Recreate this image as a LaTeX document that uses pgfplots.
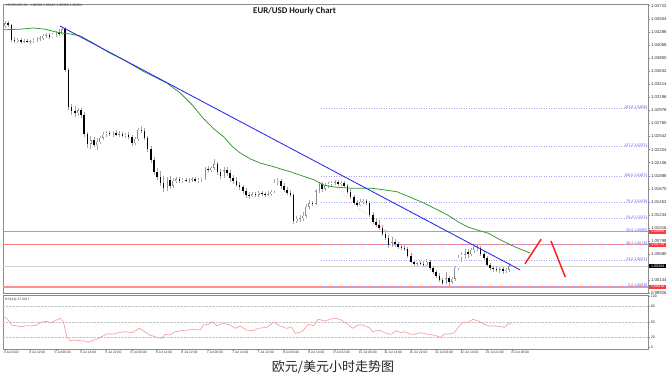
\documentclass[border=0pt]{standalone}
\usepackage{fontspec}
\setmainfont{Liberation Sans}
\newfontfamily\titlefont{Carlito}
\newfontfamily\cjk{Noto Sans CJK SC}
\newfontfamily\dejavu{DejaVu Sans}
\usepackage{pgfplots}
\usepackage{pgfplotstable}
\pgfplotsset{compat=1.18}

\definecolor{mtgray}{HTML}{8C8C8C}
\definecolor{fibblue}{HTML}{5A5AF2}
\definecolor{lvlred}{HTML}{FF7A7A}
\definecolor{boxred}{HTML}{FF3A3A}
\definecolor{marsi}{HTML}{F29A9A}
\definecolor{magreen}{HTML}{2E9A2E}
\definecolor{tlblue}{HTML}{2828F0}
\definecolor{handred}{HTML}{FF2020}

% high / low of every hourly candle
\pgfplotstableread{
i h l
0 1.0447 1.0435
1 1.0447 1.0437
2 1.0442 1.0412
3 1.0420 1.0410
4 1.0418 1.0410
5 1.0418 1.0408
6 1.0417 1.0410
7 1.0417 1.0410
8 1.0415 1.0408
9 1.0418 1.0410
10 1.0420 1.0412
11 1.0422 1.0413
12 1.0425 1.0415
13 1.0427 1.0418
14 1.0427 1.0417
15 1.0427 1.0418
16 1.0430 1.0420
17 1.0433 1.0422
18 1.0437 1.0423
19 1.0437 1.0362
20 1.0368 1.0298
21 1.0308 1.0290
22 1.0305 1.0287
23 1.0302 1.0288
24 1.0302 1.0285
25 1.0295 1.0253
26 1.0262 1.0235
27 1.0255 1.0233
28 1.0253 1.0237
29 1.0252 1.0232
30 1.0255 1.0242
31 1.0262 1.0248
32 1.0263 1.0253
33 1.0263 1.0255
34 1.0263 1.0253
35 1.0265 1.0255
36 1.0263 1.0253
37 1.0262 1.0253
38 1.0260 1.0252
39 1.0262 1.0250
40 1.0257 1.0238
41 1.0253 1.0240
42 1.0268 1.0247
43 1.0272 1.0260
44 1.0268 1.0248
45 1.0255 1.0228
46 1.0238 1.0210
47 1.0220 1.0190
48 1.0202 1.0182
49 1.0197 1.0172
50 1.0188 1.0162
51 1.0187 1.0163
52 1.0188 1.0167
53 1.0185 1.0168
54 1.0187 1.0177
55 1.0187 1.0177
56 1.0185 1.0177
57 1.0185 1.0178
58 1.0185 1.0177
59 1.0187 1.0178
60 1.0187 1.0178
61 1.0185 1.0177
62 1.0187 1.0178
63 1.0203 1.0182
64 1.0205 1.0195
65 1.0205 1.0195
66 1.0217 1.0198
67 1.0212 1.0190
68 1.0200 1.0183
69 1.0203 1.0185
70 1.0203 1.0188
71 1.0198 1.0178
72 1.0190 1.0175
73 1.0187 1.0170
74 1.0178 1.0165
75 1.0173 1.0158
76 1.0168 1.0152
77 1.0162 1.0150
78 1.0162 1.0153
79 1.0162 1.0153
80 1.0163 1.0153
81 1.0163 1.0155
82 1.0162 1.0153
83 1.0163 1.0155
84 1.0165 1.0155
85 1.0183 1.0160
86 1.0185 1.0173
87 1.0183 1.0167
88 1.0177 1.0162
89 1.0170 1.0157
90 1.0165 1.0153
91 1.0160 1.0108
92 1.0122 1.0110
93 1.0123 1.0112
94 1.0128 1.0113
95 1.0142 1.0118
96 1.0148 1.0133
97 1.0147 1.0138
98 1.0167 1.0140
99 1.0178 1.0160
100 1.0178 1.0162
101 1.0177 1.0163
102 1.0178 1.0168
103 1.0180 1.0172
104 1.0182 1.0173
105 1.0182 1.0172
106 1.0180 1.0172
107 1.0180 1.0168
108 1.0175 1.0158
109 1.0167 1.0150
110 1.0157 1.0140
111 1.0148 1.0137
112 1.0150 1.0138
113 1.0150 1.0142
114 1.0150 1.0140
115 1.0147 1.0120
116 1.0128 1.0108
117 1.0118 1.0103
118 1.0115 1.0098
119 1.0107 1.0088
120 1.0098 1.0082
121 1.0090 1.0068
122 1.0087 1.0070
123 1.0083 1.0070
124 1.0078 1.0067
125 1.0075 1.0065
126 1.0073 1.0063
127 1.0070 1.0052
128 1.0060 1.0043
129 1.0047 1.0038
130 1.0045 1.0038
131 1.0047 1.0040
132 1.0047 1.0037
133 1.0050 1.0038
134 1.0048 1.0032
135 1.0038 1.0025
136 1.0032 1.0018
137 1.0027 1.0012
138 1.0018 1.0007
139 1.0028 1.0008
140 1.0022 1.0005
141 1.0020 1.0008
142 1.0038 1.0013
143 1.0057 1.0032
144 1.0062 1.0045
145 1.0067 1.0050
146 1.0067 1.0052
147 1.0068 1.0055
148 1.0073 1.0060
149 1.0075 1.0063
150 1.0072 1.0055
151 1.0063 1.0048
152 1.0055 1.0038
153 1.0043 1.0032
154 1.0038 1.0028
155 1.0038 1.0028
156 1.0037 1.0027
157 1.0037 1.0025
158 1.0035 1.0027
159 1.0044 1.0028
}\wicks

% open / close of the rising candles
\pgfplotstableread{
i o c
0 1.0438 1.0443
4 1.0413 1.0415
6 1.0412 1.0413
8 1.0412 1.0413
9 1.0413 1.0415
10 1.0415 1.0417
11 1.0417 1.0418
12 1.0418 1.0422
13 1.0422 1.0423
15 1.0420 1.0425
16 1.0425 1.0427
18 1.0425 1.0433
23 1.0293 1.0298
27 1.0242 1.0248
29 1.0240 1.0245
30 1.0245 1.0252
31 1.0252 1.0257
32 1.0257 1.0260
34 1.0258 1.0260
36 1.0257 1.0258
38 1.0255 1.0257
41 1.0243 1.0250
42 1.0250 1.0265
51 1.0168 1.0182
53 1.0172 1.0180
54 1.0180 1.0183
56 1.0180 1.0182
58 1.0180 1.0182
59 1.0182 1.0183
61 1.0180 1.0183
62 1.0183 1.0185
63 1.0185 1.0200
65 1.0198 1.0202
66 1.0202 1.0208
69 1.0188 1.0198
78 1.0155 1.0158
80 1.0157 1.0160
83 1.0157 1.0158
84 1.0158 1.0162
85 1.0162 1.0178
86 1.0178 1.0180
92 1.0113 1.0117
93 1.0117 1.0118
94 1.0118 1.0122
95 1.0122 1.0137
96 1.0137 1.0143
98 1.0142 1.0163
99 1.0163 1.0175
101 1.0167 1.0172
102 1.0172 1.0175
103 1.0175 1.0177
104 1.0177 1.0178
106 1.0175 1.0177
112 1.0140 1.0145
113 1.0145 1.0147
122 1.0073 1.0078
130 1.0042 1.0043
133 1.0040 1.0045
139 1.0010 1.0018
141 1.0012 1.0017
142 1.0017 1.0035
143 1.0035 1.0052
144 1.0052 1.0057
145 1.0057 1.0062
147 1.0058 1.0065
148 1.0065 1.0070
156 1.0032 1.0033
158 1.0030 1.0032
159 1.0032 1.0038
}\bull

% open / close of the falling candles
\pgfplotstableread{
i o c
1 1.0443 1.0440
2 1.0440 1.0415
3 1.0415 1.0413
5 1.0415 1.0412
7 1.0413 1.0412
14 1.0423 1.0420
17 1.0427 1.0425
19 1.0433 1.0365
20 1.0365 1.0303
21 1.0303 1.0297
22 1.0297 1.0293
24 1.0298 1.0290
25 1.0290 1.0258
26 1.0258 1.0242
28 1.0248 1.0240
33 1.0260 1.0258
35 1.0260 1.0257
37 1.0258 1.0255
39 1.0257 1.0253
40 1.0253 1.0243
43 1.0265 1.0263
44 1.0263 1.0252
45 1.0252 1.0233
46 1.0233 1.0215
47 1.0215 1.0195
48 1.0195 1.0187
49 1.0187 1.0177
50 1.0177 1.0168
52 1.0182 1.0172
55 1.0183 1.0180
57 1.0182 1.0180
60 1.0183 1.0180
64 1.0200 1.0198
67 1.0208 1.0195
68 1.0195 1.0188
70 1.0198 1.0193
71 1.0193 1.0185
72 1.0185 1.0180
73 1.0180 1.0173
74 1.0173 1.0170
75 1.0170 1.0163
76 1.0163 1.0157
77 1.0157 1.0155
79 1.0158 1.0157
81 1.0160 1.0158
82 1.0158 1.0157
87 1.0180 1.0172
88 1.0172 1.0165
89 1.0165 1.0160
90 1.0160 1.0157
91 1.0157 1.0113
97 1.0143 1.0142
100 1.0175 1.0167
105 1.0178 1.0175
107 1.0177 1.0172
108 1.0172 1.0162
109 1.0162 1.0153
110 1.0153 1.0143
111 1.0143 1.0140
114 1.0147 1.0143
115 1.0143 1.0123
116 1.0123 1.0112
117 1.0112 1.0107
118 1.0107 1.0102
119 1.0102 1.0092
120 1.0092 1.0085
121 1.0085 1.0073
123 1.0078 1.0075
124 1.0075 1.0070
125 1.0070 1.0068
126 1.0068 1.0067
127 1.0067 1.0055
128 1.0055 1.0045
129 1.0045 1.0042
131 1.0043 1.0042
132 1.0042 1.0040
134 1.0045 1.0035
135 1.0035 1.0028
136 1.0028 1.0022
137 1.0022 1.0015
138 1.0015 1.0010
140 1.0018 1.0012
146 1.0062 1.0058
149 1.0070 1.0068
150 1.0068 1.0058
151 1.0058 1.0052
152 1.0052 1.0040
153 1.0040 1.0035
154 1.0035 1.0033
155 1.0033 1.0032
157 1.0033 1.0030
}\bear

\pgfplotstableread{
i v
-0.6 1.0432
4.73 1.0433
8.83 1.0435
12.62 1.0433
16.4 1.0428
20.5 1.0425
23.66 1.0422
26.8 1.0413
29.97 1.0403
33.12 1.0393
36.28 1.0385
40.38 1.0373
43.53 1.0363
47.32 1.0353
51.1 1.0343
55.2 1.0327
59.0 1.0307
62.46 1.0285
65.6 1.0268
69.1 1.0253
71.6 1.0238
74.1 1.0227
77.3 1.0217
80.4 1.0210
85.2 1.0203
90.2 1.0195
94.6 1.0187
97.5 1.0182
100.6 1.0173
103.8 1.0170
108.8 1.0168
115.5 1.0168
119.9 1.0165
123.7 1.0162
127.8 1.0153
132.2 1.0143
136.0 1.0133
139.7 1.0123
142.9 1.0112
146.1 1.0103
149.2 1.0098
152.4 1.0093
156.2 1.0082
160.9 1.0070
165.6 1.0060
}\ma

\pgfplotstableread{
i v
-0.6 60.4
0.5 57.8
2.1 44.1
3.7 42.2
5.3 40.8
6.8 42.7
8.4 42.2
10.0 44.1
11.6 50.0
13.2 51.4
14.2 48.0
15.8 52.5
17.4 57.3
18.4 50.6
19.5 21.2
20.5 13.3
22.1 14.7
23.7 13.3
25.2 12.7
26.3 10.2
27.4 13.3
28.9 16.1
30.5 21.2
32.1 26.5
34.2 26.5
35.7 29.0
37.9 31.0
40.0 29.0
41.6 34.3
42.4 37.6
43.6 32.9
45.7 24.5
47.9 20.0
49.4 18.0
50.5 25.9
52.1 24.5
53.6 31.0
55.7 32.9
57.8 34.3
59.9 35.7
61.5 34.3
62.6 44.1
64.1 45.5
65.5 50.6
66.8 42.7
68.9 47.5
71.0 44.1
72.6 37.6
74.1 42.2
76.2 34.3
78.3 32.9
79.9 37.6
82.6 39.6
84.6 49.4
86.8 42.2
88.9 37.6
90.4 40.8
91.5 27.8
93.6 31.0
95.7 45.5
97.3 42.7
98.8 55.3
100.9 52.0
103.6 57.3
104.4 57.3
106.0 53.9
108.1 45.5
109.7 37.6
111.3 44.1
112.8 44.1
114.9 38.8
116.0 31.0
117.0 32.9
118.6 32.9
120.2 27.8
121.8 25.9
123.3 32.9
124.9 29.0
126.0 31.0
127.5 26.5
129.1 25.9
131.2 29.0
133.3 25.9
134.9 24.5
135.9 23.1
137.5 20.0
138.6 26.5
140.2 26.5
141.7 29.0
143.3 42.2
144.4 49.4
146.0 48.6
147.5 55.3
149.1 52.5
150.7 47.5
152.3 42.2
154.9 42.2
157.5 39.6
158.6 46.1
159.6 47.3
}\rsi

\begin{document}
\begin{tikzpicture}
\path[use as bounding box] (0pt,0pt) rectangle (672pt,380pt);
\fill[white] (0pt,0pt) rectangle (672pt,380pt);

% ---------------- main price panel ----------------
\begin{axis}[
  at={(3pt,376pt)}, anchor=north west,
  scale only axis, width=645pt, height=289.8pt,
  xmin=-0.63, xmax=202.8, ymin=0.9992, ymax=1.0475,
  clip=false,
  axis line style={mtgray, line width=0.8pt},
  xtick=\empty,
  scaled y ticks=false,
  ytick={1.04722,1.04504,1.04286,1.04068,1.03850,1.03632,1.03414,1.03196,1.02978,1.02760,1.02542,1.02324,1.02106,1.01888,1.01670,1.01452,1.01234,1.01016,1.00798,1.00580,1.00144,0.99926},
  ytick pos=right, yticklabel pos=right,
  tick align=outside, major tick length=2pt,
  tick style={mtgray, line width=0.4pt},
  yticklabel style={font=\fontsize{4.3}{5}\selectfont, text=black!80, inner sep=0.8pt,
    /pgf/number format/fixed, /pgf/number format/precision=5,
    /pgf/number format/fixed zerofill, /pgf/number format/assume math mode=true},
]
% bid line
\addplot[gray!35, line width=0.5pt] coordinates {(-0.63,1.00384) (202.8,1.00384)};
% horizontal resistance / support lines
\addplot[lvlred, line width=1.1pt] coordinates {(-0.63,1.00955) (202.8,1.00955)};
\addplot[lvlred, line width=1.1pt] coordinates {(-0.63,1.00739) (202.8,1.00739)};
\addplot[lvlred!85, line width=1.6pt] coordinates {(-0.63,1.00038) (202.8,1.00038)};
% Fibonacci levels
\pgfplotsset{fibline/.style={fibblue!55, dotted, line width=0.5pt}}
\addplot[fibline] coordinates {(99.7,1.00038) (202.8,1.00038)};
\addplot[fibline] coordinates {(99.7,1.00471) (202.8,1.00471)};
\addplot[fibline] coordinates {(99.7,1.00739) (202.8,1.00739)};
\addplot[fibline] coordinates {(99.7,1.00955) (202.8,1.00955)};
\addplot[fibline] coordinates {(99.7,1.01171) (202.8,1.01171)};
\addplot[fibline] coordinates {(99.7,1.01439) (202.8,1.01439)};
\addplot[fibline] coordinates {(99.7,1.01872) (202.8,1.01872)};
\addplot[fibline] coordinates {(99.7,1.02371) (202.8,1.02371)};
\addplot[fibline] coordinates {(99.7,1.03005) (202.8,1.03005)};
% Fibonacci diagonal
\addplot[red!50, dotted, line width=0.5pt] coordinates {(100.6,1.01872) (140,1.00038)};

% candles: wicks (segment from low to high)
\addplot[draw=black!35, line width=0.4pt, quiver={u=0, v=\thisrow{h}-\thisrow{l}}]
  table[x=i, y=l] {\wicks};
% falling candles: black bodies
\addplot[draw=black, line width=1.6pt, quiver={u=0, v=\thisrow{c}-\thisrow{o}}]
  table[x=i, y=o] {\bear};
% rising candles: grey outline, white core
\addplot[draw=black!45, line width=1.8pt, quiver={u=0, v=\thisrow{c}-\thisrow{o}}]
  table[x=i, y=o] {\bull};
\addplot[draw=white, line width=0.8pt, quiver={u=0, v={max(\thisrow{c}-\thisrow{o}-0.00014,0)}}]
  table[x=i, y expr=\thisrow{o}+0.00007] {\bull};

% moving average
\addplot[magreen, line width=0.75pt] table[x=i, y=v] {\ma};
% descending trend line
\addplot[tlblue, line width=0.85pt] coordinates {(17.35,1.04383) (162.5,1.00317)};
% hand-drawn projection
\addplot[handred, line width=1.5pt] coordinates {(164.0,1.0042) (169.1,1.0083)};
\addplot[handred, line width=1.5pt] coordinates {(172.2,1.0080) (176.7,1.0020)};

% Fibonacci labels
\begin{scope}[every node/.style={anchor=south east, font=\fontsize{3.6}{4}\selectfont, text=fibblue, inner sep=0.4pt}]
\node at (axis cs:202.8,1.00038) {0.0 1.00038};
\node at (axis cs:202.8,1.00471) {23.6 1.00471};
\node at (axis cs:202.8,1.00739) {38.2 1.00739};
\node at (axis cs:202.8,1.00955) {50.0 1.00955};
\node at (axis cs:202.8,1.01171) {61.8 1.01171};
\node at (axis cs:202.8,1.01439) {76.4 1.01439};
\node at (axis cs:202.8,1.01872) {100.0 1.01872};
\node at (axis cs:202.8,1.02371) {127.2 1.02371};
\node at (axis cs:202.8,1.03005) {161.8 1.03005};
\end{scope}
% price boxes on the scale
\begin{scope}[every node/.style={anchor=west, font=\fontsize{3.7}{4}\selectfont, text=white, inner sep=0.7pt, minimum width=17pt, xshift=1pt}]
\node[fill=boxred] at (axis cs:202.8,1.00955) {1.00955};
\node[fill=boxred] at (axis cs:202.8,1.00739) {1.00739};
\node[fill=boxred] at (axis cs:202.8,1.00038) {1.00038};
\node[fill=black] at (axis cs:202.8,1.00384) {1.00384};
\end{scope}
\end{axis}

% ---------------- RSI panel ----------------
\begin{axis}[
  at={(3pt,85pt)}, anchor=north west,
  scale only axis, width=645pt, height=54pt,
  xmin=-0.63, xmax=202.8, ymin=-2.9, ymax=102.9,
  clip=false,
  axis line style={mtgray, line width=0.8pt},
  ytick={0,20,50,80,100},
  ytick pos=right, yticklabel pos=right,
  xtick={0,8,...,160}, xtick pos=bottom,
  xticklabels={4 Jul 2022,4 Jul 22:00,5 Jul 06:00,5 Jul 14:00,5 Jul 22:00,6 Jul 06:00,6 Jul 14:00,6 Jul 22:00,7 Jul 06:00,7 Jul 14:00,7 Jul 22:00,8 Jul 06:00,8 Jul 14:00,8 Jul 22:00,11 Jul 06:00,11 Jul 14:00,11 Jul 22:00,12 Jul 06:00,12 Jul 14:00,12 Jul 22:00,13 Jul 06:00},
  tick align=outside, major tick length=1.8pt,
  tick style={mtgray, line width=0.4pt},
  yticklabel style={font=\fontsize{3.6}{4}\selectfont, text=black!80, inner sep=0.8pt, /pgf/number format/assume math mode=true},
  xticklabel style={font=\fontsize{3.3}{4}\selectfont, text=black!80, anchor=north west, xshift=-2pt, inner sep=0.6pt},
]
\addplot[gray!45, densely dotted, line width=0.4pt] coordinates {(-0.63,20) (202.8,20)};
\addplot[gray!45, densely dotted, line width=0.4pt] coordinates {(-0.63,50) (202.8,50)};
\addplot[gray!45, densely dotted, line width=0.4pt] coordinates {(-0.63,80) (202.8,80)};
\addplot[marsi, line width=0.6pt] table[x=i, y=v] {\rsi};
\node[anchor=north west, font=\fontsize{3.3}{4}\selectfont, text=black!80, inner sep=0.5pt] at (rel axis cs:0,1) [xshift=1.5pt, yshift=-2pt] {RSI(14) 47.3317};
\end{axis}

% ---------------- texts ----------------
\node[anchor=west, font=\fontsize{3.4}{4}\selectfont, text=black!80, inner sep=0pt] at (6pt,374pt) {{\dejavu ▾}\,EURUSD,H1\ \ 1.00390 1.00443 1.00358 1.00384};
\node[font=\titlefont\bfseries\fontsize{8.8}{10}\selectfont, text=black!90] at (294.5pt,369pt) {EUR/USD Hourly Chart};
\node[font=\cjk\fontsize{13}{15}\selectfont, text=black!85] at (333pt,13pt) {欧元/美元小时走势图};
\end{tikzpicture}
\end{document}
